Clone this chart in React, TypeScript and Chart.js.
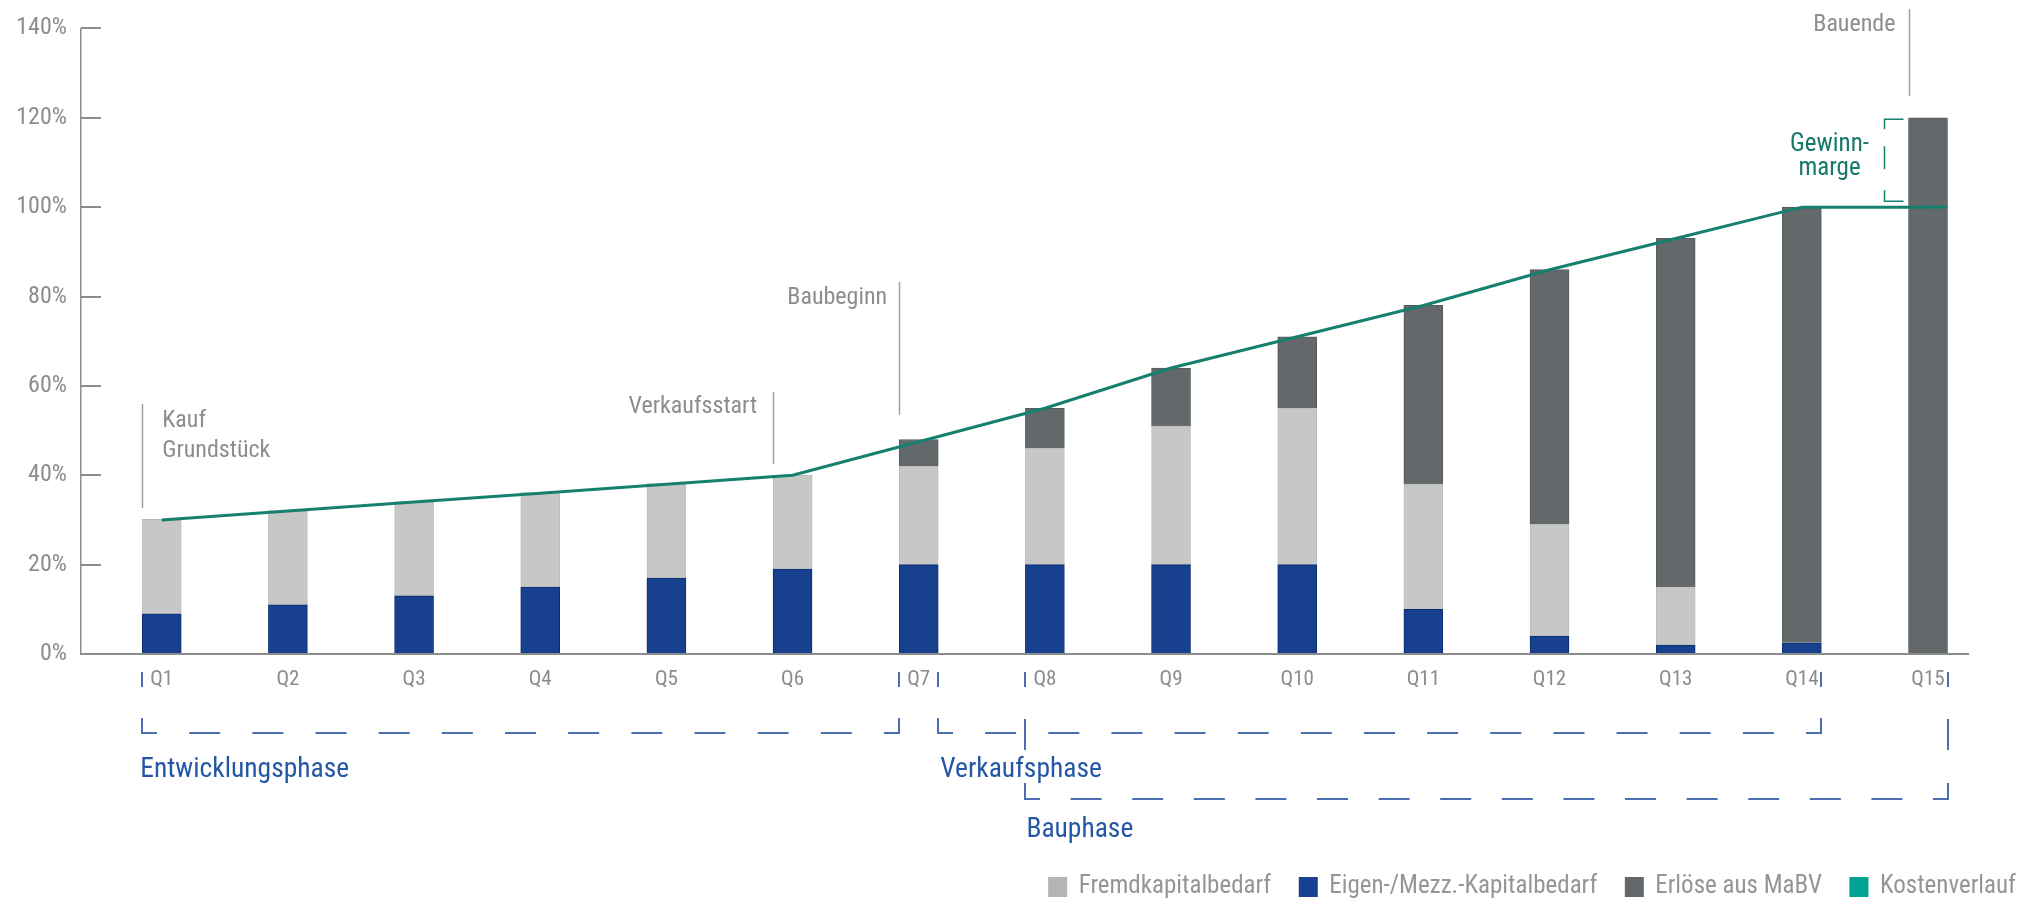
import React, { useEffect, useRef } from 'react';
import { Chart, registerables } from 'chart.js';

Chart.register(...registerables);

// ---------- data ----------
const categories = ['Q1', 'Q2', 'Q3', 'Q4', 'Q5', 'Q6', 'Q7', 'Q8', 'Q9', 'Q10', 'Q11', 'Q12', 'Q13', 'Q14', 'Q15'];
const eigenKapitalbedarf = [9, 11, 13, 15, 17, 19, 20, 20, 20, 20, 10, 4, 2, 2.5, 0];
const fremdKapitalbedarf = [21, 21, 21, 21, 21, 21, 22, 26, 31, 35, 28, 25, 13, 0, 0];
const erloeseMaBV = [0, 0, 0, 0, 0, 0, 6, 9, 13, 16, 40, 57, 78, 97.5, 120];
const kostenverlauf = [30, 32, 34, 36, 38, 40, 47.5, 55, 64, 71, 78, 86, 93, 100, 100];
const yTickValues = [0, 20, 40, 60, 80, 100, 120, 140];
const seriesLabels = ['Fremdkapitalbedarf', 'Eigen-/Mezz.-Kapitalbedarf', 'Erlöse aus MaBV', 'Kostenverlauf'];
const phaseLabels = ['Entwicklungsphase', 'Verkaufsphase', 'Bauphase'];
const milestoneLabels = ['Kauf', 'Grundstück', 'Verkaufsstart', 'Baubeginn', 'Bauende'];
const marginLabels = ['Gewinn-', 'marge'];

// ---------- styles ----------
const FONT = '"Liberation Sans Narrow", "Roboto Condensed", "DejaVu Sans Condensed", sans-serif';
const AXIS = '#8c8c8c';
const LABEL = '#8c8c8c';
const BLUE = '#17408f';
const BLUE_EDGE = '#0e2d6c';
const LIGHT = '#c7c7c7';
const DARK = '#63686a';
const TEAL_LINE = '#16806f';
const TEAL_TEXT = '#16786b';
const TEAL_LEGEND = '#00a393';
const LEGEND_LIGHT = '#b4b4b4';
const PHASE = '#2457a5';
const PHASE_LINE = '#4a70b3';
const NOTE_LINE = '#a0a0a0';

const pts = (arr: number[]) => arr.map((v, i) => ({ x: i + 1, y: v }));

const overlay = {
  id: 'overlay',
  afterDatasetsDraw(chart: any) {
    const ctx: CanvasRenderingContext2D = chart.ctx;
    const ca = chart.chartArea;
    const xs = chart.scales.x;
    const ys = chart.scales.y;
    const bars = chart.getDatasetMeta(0).data;
    const bl = (i: number) => bars[i].x - bars[i].width / 2;
    const br = (i: number) => bars[i].x + bars[i].width / 2;
    const last = categories.length - 1;

    ctx.save();

    // line extension to right edge of last bar
    ctx.strokeStyle = TEAL_LINE;
    ctx.lineWidth = 3;
    ctx.beginPath();
    ctx.moveTo(xs.getPixelForValue(last + 1), ys.getPixelForValue(kostenverlauf[last]));
    ctx.lineTo(br(last), ys.getPixelForValue(kostenverlauf[last]));
    ctx.stroke();

    // inner y tick marks
    ctx.strokeStyle = AXIS;
    ctx.lineWidth = 2;
    yTickValues.forEach((v) => {
      if (v === 0) return;
      const py = Math.round(ys.getPixelForValue(v));
      ctx.beginPath();
      ctx.moveTo(ca.left, py);
      ctx.lineTo(ca.left + 20, py);
      ctx.stroke();
    });

    // milestone annotations
    ctx.strokeStyle = NOTE_LINE;
    ctx.lineWidth = 1.5;
    const vline = (x: number, y1: number, y2: number) => {
      ctx.beginPath();
      ctx.moveTo(Math.round(x) + 0.5, y1);
      ctx.lineTo(Math.round(x) + 0.5, y2);
      ctx.stroke();
    };
    vline(bl(0), 404, 508);
    vline(bl(5), 392, 464);
    vline(bl(6), 282, 415);
    vline(bl(14), 9, 96);

    ctx.fillStyle = '#8d8d8d';
    ctx.font = `24px ${FONT}`;
    ctx.textBaseline = 'alphabetic';
    ctx.textAlign = 'left';
    ctx.fillText(milestoneLabels[0], bl(0) + 20, 427);
    ctx.fillText(milestoneLabels[1], bl(0) + 20, 457);
    ctx.textAlign = 'right';
    ctx.fillText(milestoneLabels[2], bl(5) - 16, 413);
    ctx.fillText(milestoneLabels[3], bl(6) - 12, 304);
    ctx.fillText(milestoneLabels[4], bl(14) - 13, 31);

    // Gewinnmarge bracket
    const gx = bl(14) - 24;
    const gTop = ys.getPixelForValue(120) + 1.5;
    const gBot = ys.getPixelForValue(100) - 6;
    ctx.strokeStyle = TEAL_LINE;
    ctx.lineWidth = 1.5;
    ctx.beginPath();
    ctx.moveTo(gx + 19, gTop);
    ctx.lineTo(gx, gTop);
    ctx.lineTo(gx, gTop + 10);
    ctx.moveTo(gx, gTop + 27);
    ctx.lineTo(gx, gTop + 50);
    ctx.moveTo(gx, gBot - 11);
    ctx.lineTo(gx, gBot);
    ctx.lineTo(gx + 19, gBot);
    ctx.stroke();
    ctx.fillStyle = TEAL_TEXT;
    ctx.font = `25px ${FONT}`;
    ctx.textAlign = 'center';
    ctx.fillText(marginLabels[0], gx - 55, 151);
    ctx.fillText(marginLabels[1], gx - 55, 175);

    // blue phase ticks next to x labels
    ctx.strokeStyle = PHASE_LINE;
    ctx.lineWidth = 2;
    [bl(0), bl(6), br(6), bl(7), br(13), br(14)].forEach((x) => {
      ctx.beginPath();
      ctx.moveTo(Math.round(x), 672);
      ctx.lineTo(Math.round(x), 687);
      ctx.stroke();
    });

    // phase brackets
    const bracket = (x1: number, x2: number, yb: number, h: number) => {
      const arm = 15;
      const dash = 31;
      ctx.beginPath();
      ctx.moveTo(x1, yb - h);
      ctx.lineTo(x1, yb);
      ctx.lineTo(x1 + arm, yb);
      ctx.moveTo(x2, yb - h);
      ctx.lineTo(x2, yb);
      ctx.lineTo(x2 - arm, yb);
      const L = x2 - x1 - 2 * arm;
      const n = Math.round((L - 32) / 63);
      const gap = (L - n * dash) / (n + 1);
      for (let k = 0; k < n; k++) {
        const s = x1 + arm + gap + k * (dash + gap);
        ctx.moveTo(s, yb);
        ctx.lineTo(s + dash, yb);
      }
      ctx.stroke();
    };
    bracket(Math.round(bl(0)), Math.round(bl(6)), 733, 15);
    bracket(Math.round(br(6)), Math.round(br(13)), 733, 15);
    bracket(Math.round(bl(7)), Math.round(br(14)), 799, 16);
    ctx.beginPath();
    ctx.moveTo(Math.round(bl(7)), 719);
    ctx.lineTo(Math.round(bl(7)), 750);
    ctx.moveTo(Math.round(br(14)), 719);
    ctx.lineTo(Math.round(br(14)), 750);
    ctx.stroke();

    ctx.fillStyle = PHASE;
    ctx.font = `27.5px ${FONT}`;
    ctx.textAlign = 'left';
    ctx.fillText(phaseLabels[0], bl(0) - 2, 777);
    ctx.fillText(phaseLabels[1], br(6) + 2, 777);
    ctx.fillText(phaseLabels[2], bl(7) + 1, 837);

    // legend
    const legendColors = [LEGEND_LIGHT, BLUE, DARK, TEAL_LEGEND];
    ctx.font = `25px ${FONT}`;
    const BOX = 19;
    const GAPT = 11.5;
    const GAPI = 27.5;
    const widths = seriesLabels.map((t) => ctx.measureText(t).width);
    const total = widths.reduce((a, w) => a + BOX + GAPT + w, 0) + GAPI * (seriesLabels.length - 1);
    let lx = 2016 - total;
    ctx.textBaseline = 'middle';
    seriesLabels.forEach((t, i) => {
      ctx.fillStyle = legendColors[i];
      ctx.fillRect(lx, 877, BOX, 20);
      ctx.fillStyle = '#959595';
      ctx.fillText(t, lx + BOX + GAPT, 887);
      lx += BOX + GAPT + widths[i] + GAPI;
    });

    ctx.restore();
  },
};

export default function App() {
  const ref = useRef<HTMLCanvasElement>(null);

  useEffect(() => {
    document.body.style.margin = '0';
    const canvas = ref.current;
    if (!canvas) return;
    const edge = (c: any) => (c.raw && c.raw.y > 0 ? 1 : 0);
    const chart = new Chart(canvas, {
      type: 'bar',
      data: {
        datasets: [
          {
            type: 'bar',
            label: seriesLabels[1],
            data: pts(eigenKapitalbedarf),
            backgroundColor: BLUE,
            borderColor: BLUE_EDGE,
            borderWidth: edge,
            borderSkipped: false,
            barThickness: 39,
            order: 1,
          },
          {
            type: 'bar',
            label: seriesLabels[0],
            data: pts(fremdKapitalbedarf),
            backgroundColor: LIGHT,
            borderColor: '#bdbdbd',
            borderWidth: edge,
            barThickness: 39,
            order: 1,
          },
          {
            type: 'bar',
            label: seriesLabels[2],
            data: pts(erloeseMaBV),
            backgroundColor: DARK,
            borderColor: '#575b5d',
            borderWidth: edge,
            barThickness: 39,
            order: 1,
          },
          {
            type: 'line',
            label: seriesLabels[3],
            data: pts(kostenverlauf),
            borderColor: TEAL_LINE,
            backgroundColor: TEAL_LEGEND,
            borderWidth: 3,
            pointRadius: 0,
            tension: 0,
            fill: false,
            order: 0,
          },
        ] as any,
      },
      options: {
        responsive: false,
        devicePixelRatio: 1,
        animation: false,
        layout: { padding: { top: 21, right: 73, bottom: 0, left: 0 } },
        plugins: { legend: { display: false }, tooltip: { enabled: false } },
        scales: {
          x: {
            type: 'linear',
            stacked: true,
            offset: false,
            min: 0.36,
            max: 15.317,
            afterBuildTicks: (s: any) => {
              s.ticks = categories.map((_, i) => ({ value: i + 1 }));
            },
            afterFit: (s: any) => {
              s.height = 250;
            },
            grid: { display: false, drawTicks: false, offset: false },
            border: { display: true, color: AXIS, width: 2, z: 1 },
            ticks: {
              autoSkip: false,
              maxRotation: 0,
              padding: 13,
              color: LABEL,
              font: { family: FONT, size: 21 },
              callback: (v: any) => categories[Number(v) - 1] ?? '',
            },
          },
          y: {
            stacked: true,
            min: 0,
            max: 140,
            afterFit: (s: any) => {
              s.width = 81;
            },
            grid: { display: false, drawTicks: false },
            border: { display: true, color: AXIS, width: 1.5, z: 1 },
            ticks: {
              stepSize: 20,
              padding: 14,
              color: LABEL,
              font: { family: FONT, size: 24 },
              callback: (v: any) => `${v}%`,
            },
          },
        },
      } as any,
      plugins: [overlay],
    });
    return () => chart.destroy();
  }, []);

  return (
    <div style={{ width: 2041, height: 904 }}>
      <canvas ref={ref} width={2041} height={904} style={{ display: 'block' }} />
    </div>
  );
}
